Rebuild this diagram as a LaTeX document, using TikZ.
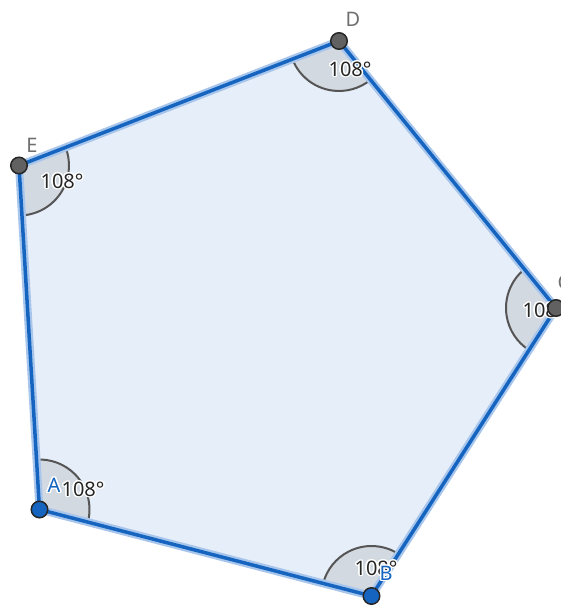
\documentclass[tikz,border=0pt]{standalone}
\usepackage{fontspec}
\setmainfont{Noto Sans}
\usepackage{contour}
\contourlength{1.4pt}
\usetikzlibrary{angles}
\definecolor{edgeblue}{HTML}{1565C0}
\definecolor{glowblue}{HTML}{A8C6EC}
\definecolor{facefill}{HTML}{E6EEF9}
\definecolor{sectorfill}{HTML}{D3D9E1}
\definecolor{arcgray}{HTML}{555555}
\definecolor{ptgray}{HTML}{616161}
\definecolor{labgray}{HTML}{6E6E6E}
\begin{document}
\begin{tikzpicture}[x=1pt,y=-1pt,
  edge/.style={draw=edgeblue,line width=3.5pt,line cap=round},
  glow/.style={draw=glowblue,line width=8pt,line cap=round},
  sector/.style={fill=sectorfill,draw=arcgray,line width=2pt,angle radius=50pt},
  bluept/.style={circle,fill=edgeblue,draw=black!85,line width=1.5pt,minimum size=16.5pt,inner sep=0pt},
  graypt/.style={circle,fill=ptgray,draw=black!85,line width=1.5pt,minimum size=16.5pt,inner sep=0pt},
  angtext/.style={font=\fontsize{20}{20}\selectfont,text=black!85,inner sep=0pt},
  vlabel/.style={font=\fontsize{20}{20}\selectfont,inner sep=0pt},
]
\useasboundingbox (0,0) rectangle (561,605);
\coordinate (A) at (39.5,509.5);
\coordinate (B) at (371.5,596);
\coordinate (C) at (556,308);
\coordinate (D) at (339,41);
\coordinate (E) at (19,165.5);

% face
\fill[facefill] (A) -- (B) -- (C) -- (D) -- (E) -- cycle;

% angle sectors
\pic[sector] {angle = B--A--E};
\pic[sector] {angle = C--B--A};
\pic[sector] {angle = D--C--B};
\pic[sector] {angle = E--D--C};
\pic[sector] {angle = A--E--D};

% edges
\foreach \p/\q in {A/B,B/C,C/D,D/E,E/A} \draw[glow] (\p) -- (\q);
\foreach \p/\q in {A/B,B/C,C/D,D/E,E/A} \draw[edge] (\p) -- (\q);

% angle texts
\node[angtext] (tA) at (83,490) {\contour{white}{108°}};
\node[angtext] (tB) at (376,569) {\contour{white}{108°}};
\node[angtext] (tC) at (544,311) {\contour{white}{108°}};
\node[angtext] (tD) at (350,70) {\contour{white}{108°}};
\node[angtext] (tE) at (62,182) {\contour{white}{108°}};

% points
\node[bluept] (pA) at (A) {};
\node[bluept] (pB) at (B) {};
\node[graypt] (pC) at (C) {};
\node[graypt] (pD) at (D) {};
\node[graypt] (pE) at (E) {};

% labels
\node[vlabel,text=edgeblue] (lA) at (54,486) {\contour{white}{A}};
\node[vlabel,text=edgeblue] (lB) at (386,574) {\contour{white}{B}};
\node[vlabel,text=labgray] (lC) at (564,282) {C};
\node[vlabel,text=labgray] (lD) at (353,19) {D};
\node[vlabel,text=labgray] (lE) at (32,145) {E};
\end{tikzpicture}
\end{document}
